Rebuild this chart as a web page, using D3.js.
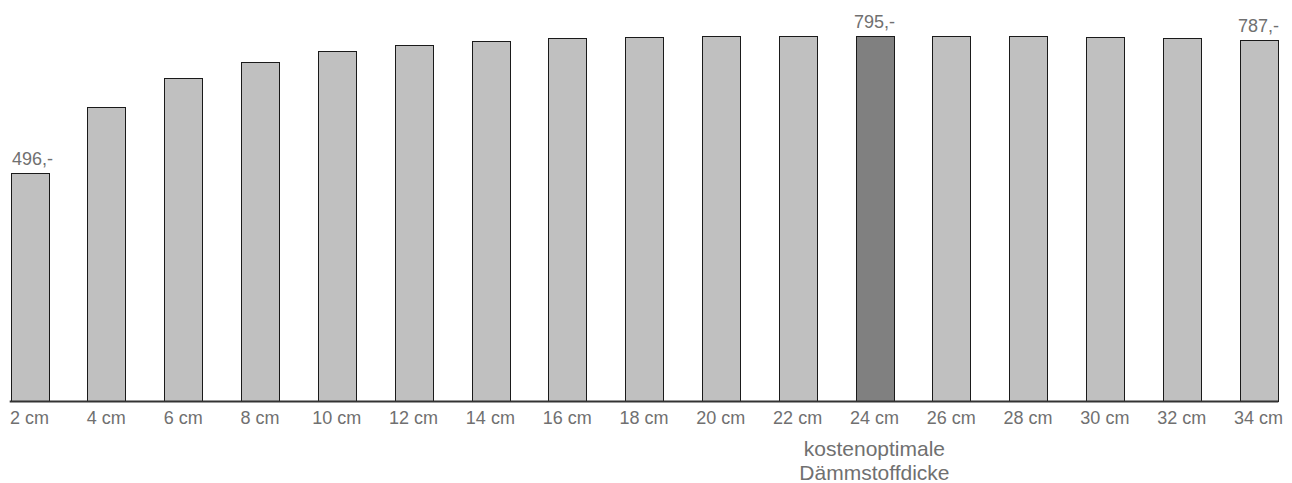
<!DOCTYPE html>
<html>
<head>
<meta charset="utf-8">
<script src="https://cdn.jsdelivr.net/npm/d3@7"></script>
<style>
  body { margin: 0; background: #fff; }
  text { font-family: "Liberation Sans", Arial, sans-serif; fill: #707070; }
</style>
</head>
<body>
<script>
// Dämmstoffdicken (Kategorien)
const categories = ['2 cm', '4 cm', '6 cm', '8 cm', '10 cm', '12 cm', '14 cm', '16 cm', '18 cm',
  '20 cm', '22 cm', '24 cm', '26 cm', '28 cm', '30 cm', '32 cm', '34 cm'];

// Werte je Dicke
const values = [496, 640, 703, 739, 762, 776, 784, 790, 793, 795, 796, 795, 796, 795, 793, 791, 787];

// beschriftete Balken
const labeled = ['2 cm', '24 cm', '34 cm'];

// kostenoptimale Dicke
const optimum = '24 cm';
const optimumNote = ['kostenoptimale', 'Dämmstoffdicke'];

// Canvas
const width = 1292;
const height = 483;
const baseY = 401;

const svg = d3
  .select('body')
  .append('svg')
  .attr('width', width)
  .attr('height', height);

// x scale
const xScale = d3
  .scaleBand()
  .domain(categories)
  .range([-8.9, 1296.9])
  .paddingInner(0.51)
  .paddingOuter(0.255);

// y scale: 795 -> 365px
const yScale = d3
  .scaleLinear()
  .domain([0, 795])
  .range([baseY, 36]);

const data = categories.map(function(c, i) {
  return { cat: c, value: values[i] };
});

// bars
svg
  .selectAll('.bar')
  .data(data)
  .enter()
  .append('rect')
  .attr('class', 'bar')
  .attr('x', function(d) { return Math.round(xScale(d.cat)) + 0.5; })
  .attr('y', function(d) { return Math.round(yScale(d.value)) + 0.5; })
  .attr('width', function() { return Math.round(xScale.bandwidth()); })
  .attr('height', function(d) { return baseY - Math.round(yScale(d.value)); })
  .attr('fill', function(d) { return d.cat === optimum ? '#808080' : '#c0c0c0'; })
  .attr('stroke', '#1a1a1a')
  .attr('stroke-width', 1);

// value labels
svg
  .selectAll('.val')
  .data(data.filter(function(d) { return labeled.indexOf(d.cat) >= 0; }))
  .enter()
  .append('text')
  .attr('class', 'val')
  .attr('x', function(d) { return xScale(d.cat) + xScale.bandwidth() / 2 + (d.cat === '2 cm' ? 3 : 0); })
  .attr('y', function(d) { return yScale(d.value) - 8; })
  .attr('text-anchor', 'middle')
  .attr('font-size', 18)
  .text(function(d) { return d.value + ',-'; });

// x axis
const xAxis = d3.axisBottom(xScale).tickSize(0).tickPadding(10);
const gx = svg
  .append('g')
  .attr('transform', 'translate(0,' + baseY + ')')
  .call(xAxis);
gx.select('.domain').remove();
gx.selectAll('text')
  .attr('font-size', 18)
  .attr('fill', '#707070')
  .attr('dy', '0.71em')
  .attr('y', 10);

// axis line
svg
  .append('line')
  .attr('x1', xScale(categories[0]) - 1)
  .attr('x2', xScale(categories[categories.length - 1]) + xScale.bandwidth() + 1)
  .attr('y1', baseY + 0.5)
  .attr('y2', baseY + 0.5)
  .attr('stroke', '#333')
  .attr('stroke-width', 2);

// annotation under optimum
svg
  .selectAll('.note')
  .data(optimumNote)
  .enter()
  .append('text')
  .attr('class', 'note')
  .attr('x', xScale(optimum) + xScale.bandwidth() / 2)
  .attr('y', function(d, i) { return 456 + i * 24; })
  .attr('text-anchor', 'middle')
  .attr('font-size', 21)
  .text(function(d) { return d; });
</script>
</body>
</html>
